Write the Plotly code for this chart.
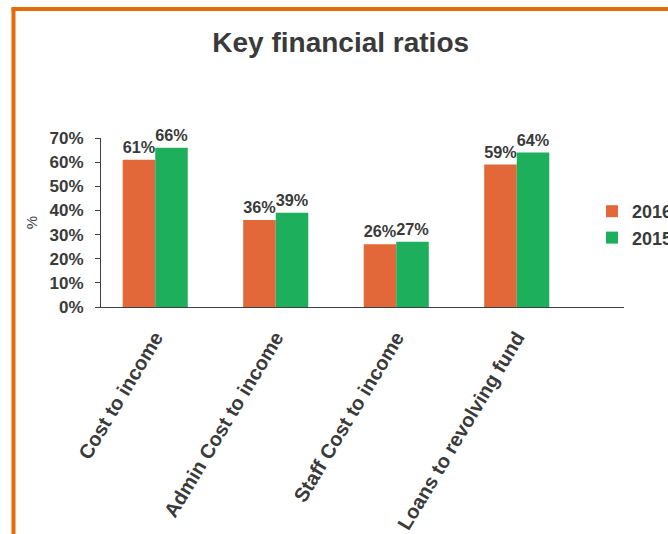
import plotly.graph_objects as go

categories = ["Cost to income", "Admin Cost to income", "Staff Cost to income", "Loans to revolving fund"]
series_names = ["2016", "2015"]
values_2016 = [0.61, 0.36, 0.26, 0.59]
values_2015 = [0.66, 0.39, 0.27, 0.64]
y_ticks = [0, 0.1, 0.2, 0.3, 0.4, 0.5, 0.6, 0.7]
y_ticklabels = ["0%", "10%", "20%", "30%", "40%", "50%", "60%", "70%"]

W, H = 668, 534
ML, MR, MT, MB = 101, 44, 138, 227
PW, PH = W - ML - MR, H - MT - MB

def px_x(x):
    return (x - ML) / PW

def px_y(y):
    return (H - MB - y) / PH

FONT = "Liberation Sans, Arial, sans-serif"
TXT = "#3a3a3a"

fig = go.Figure()
fig.add_trace(go.Bar(
    name=series_names[0], x=categories, y=values_2016,
    marker=dict(color="#E2683A", line=dict(width=0)),
    text=[f"{round(v*100)}%" for v in values_2016], textposition="outside",
    textfont=dict(family=FONT, size=17, color=TXT, weight="bold"), cliponaxis=False,
))
fig.add_trace(go.Bar(
    name=series_names[1], x=categories, y=values_2015,
    marker=dict(color="#1DAF5C", line=dict(width=0)),
    text=[f"{round(v*100)}%" for v in values_2015], textposition="outside",
    textfont=dict(family=FONT, size=17, color=TXT, weight="bold"), cliponaxis=False,
))

fig.update_layout(
    width=W, height=H,
    margin=dict(l=ML, r=MR, t=MT, b=MB, autoexpand=False),
    paper_bgcolor="white", plot_bgcolor="white",
    barmode="group", bargap=0.46, bargroupgap=0,
    font=dict(family=FONT, color=TXT),
    title=dict(text="Key financial ratios", x=0.51, xanchor="center",
               y=1 - 42 / H, yanchor="middle",
               font=dict(family=FONT, size=28, color=TXT, weight="bold")),
    legend=dict(x=px_x(592), y=px_y(193), xanchor="left", yanchor="top",
                font=dict(family=FONT, size=18, color=TXT, weight="bold"),
                bgcolor="rgba(0,0,0,0)", itemsizing="constant",
                tracegroupgap=0),
    xaxis=dict(
        type="category", range=[-0.45, 3.89],
        showline=True, linecolor="#404040", linewidth=1,
        ticks="", tickangle=-59, ticklabelstandoff=10,
        tickfont=dict(family=FONT, size=20, color=TXT, weight="bold"),
        showgrid=False, zeroline=False,
    ),
    yaxis=dict(
        range=[0, 0.7], tickvals=y_ticks, ticktext=y_ticklabels,
        showline=True, linecolor="#404040", linewidth=1,
        ticks="outside", ticklen=5, tickcolor="#404040", ticklabelstandoff=8,
        tickfont=dict(family=FONT, size=17, color=TXT, weight="bold"),
        showgrid=False, zeroline=False,
        title=dict(text="%", font=dict(family=FONT, size=15, color=TXT), standoff=8),
    ),
    shapes=[
        dict(type="line", xref="paper", yref="paper",
             x0=px_x(13.5), x1=px_x(13.5), y0=px_y(8), y1=px_y(H + 5),
             line=dict(color="#E46C0A", width=4)),
        dict(type="line", xref="paper", yref="paper",
             x0=px_x(11.5), x1=px_x(W + 5), y0=px_y(9), y1=px_y(9),
             line=dict(color="#E46C0A", width=4)),
    ],
)

fig.write_html("out.html", config={"displayModeBar": False},
               post_script="document.body.style.margin='0';document.body.style.overflow='hidden';")
